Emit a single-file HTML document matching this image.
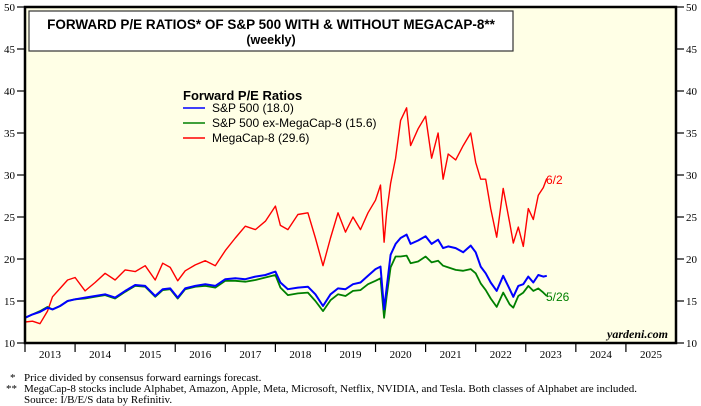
<!DOCTYPE html>
<html><head><meta charset="utf-8"><style>
body{margin:0;background:#fff;width:701px;height:406px;overflow:hidden;font-family:"Liberation Serif",serif}
svg{display:block}
</style></head><body>
<svg id="chart" width="701" height="406" xmlns="http://www.w3.org/2000/svg">
<rect x="25" y="7" width="651" height="336" fill="#ffffe6"/>
<g id="series"></g>
<rect x="25" y="7" width="651" height="336" fill="none" stroke="#000" stroke-width="2.5"/>
<rect x="29" y="11" width="484" height="40" fill="#fff" stroke="#333" stroke-width="1.2"/>
<text x="271" y="29" text-anchor="middle" font-family="Liberation Sans,sans-serif" font-weight="bold" font-size="13.5">FORWARD P/E RATIOS* OF S&amp;P 500 WITH &amp; WITHOUT MEGACAP-8**</text>
<text x="271" y="44" text-anchor="middle" font-family="Liberation Sans,sans-serif" font-weight="bold" font-size="12.5">(weekly)</text>
<g font-family="Liberation Sans,sans-serif">
<text x="183" y="100" font-weight="bold" font-size="13">Forward P/E Ratios</text>
<line x1="183" x2="205" y1="108" y2="108" stroke="#0000ff" stroke-width="1.5"/>
<text x="212" y="112" font-size="12">S&amp;P 500 (18.0)</text>
<line x1="183" x2="205" y1="123" y2="123" stroke="#008000" stroke-width="1.5"/>
<text x="212" y="127" font-size="12">S&amp;P 500 ex-MegaCap-8 (15.6)</text>
<line x1="183" x2="205" y1="138" y2="138" stroke="#ff0000" stroke-width="1.5"/>
<text x="212" y="142" font-size="12">MegaCap-8 (29.6)</text>
</g>
<text x="546" y="184" font-family="Liberation Sans,sans-serif" font-size="12" fill="#ff0000">6/2</text>
<text x="546" y="301" font-family="Liberation Sans,sans-serif" font-size="12" fill="#008000">5/26</text>
<text x="668" y="338" text-anchor="end" font-style="italic" font-weight="bold" font-size="12">yardeni.com</text>
<g font-size="11">
<text x="10" y="381">*</text>
<text x="24" y="381">Price divided by consensus forward earnings forecast.</text>
<text x="6" y="392">**</text>
<text x="24" y="392">MegaCap-8 stocks include Alphabet, Amazon, Apple, Meta, Microsoft, Netflix, NVIDIA, and Tesla. Both classes of Alphabet are included.</text>
<text x="24" y="403">Source: I/B/E/S data by Refinitiv.</text>
</g>
<g id="axes"></g>
</svg>
<script>
const dates=[2013.0,2013.15,2013.3,2013.45,2013.55,2013.7,2013.85,2014.0,2014.2,2014.4,2014.6,2014.8,2015.0,2015.2,2015.4,2015.6,2015.75,2015.9,2016.05,2016.2,2016.4,2016.6,2016.8,2017.0,2017.2,2017.4,2017.6,2017.8,2018.0,2018.1,2018.25,2018.45,2018.65,2018.8,2018.95,2019.1,2019.25,2019.4,2019.55,2019.7,2019.85,2020.0,2020.1,2020.17,2020.22,2020.3,2020.4,2020.5,2020.62,2020.7,2020.85,2021.0,2021.12,2021.25,2021.35,2021.45,2021.6,2021.75,2021.9,2022.0,2022.1,2022.2,2022.3,2022.42,2022.55,2022.68,2022.75,2022.85,2022.95,2023.05,2023.15,2023.25,2023.35,2023.42];
const sp500=[13.0,13.4,13.7,14.2,14.0,14.4,15.0,15.2,15.4,15.6,15.8,15.4,16.2,16.9,16.8,15.6,16.4,16.5,15.4,16.5,16.8,17.0,16.8,17.6,17.7,17.6,17.9,18.1,18.5,17.2,16.4,16.6,16.7,15.8,14.4,15.8,16.5,16.4,17.0,17.2,18.0,18.8,19.1,14.0,16.5,20.5,21.8,22.5,22.9,21.8,22.2,22.7,21.8,22.3,21.3,21.5,21.3,20.8,21.6,20.8,19.1,18.3,17.2,16.2,18.0,16.4,15.5,16.8,17.0,17.9,17.2,18.1,17.9,18.0];
const exMegacap=[13.0,13.4,13.8,14.3,14.0,14.4,15.0,15.2,15.3,15.5,15.7,15.3,16.1,16.8,16.7,15.5,16.3,16.4,15.3,16.4,16.7,16.8,16.6,17.4,17.4,17.3,17.5,17.8,18.1,16.6,15.7,15.9,16.0,15.0,13.8,15.1,15.8,15.6,16.2,16.3,17.0,17.4,17.7,13.0,15.5,19.0,20.3,20.3,20.4,19.5,19.7,20.3,19.6,19.8,19.2,19.0,18.7,18.6,18.8,18.3,17.1,16.3,15.3,14.3,16.0,14.6,14.2,15.6,16.0,16.8,16.2,16.5,16.0,15.6];
const megacap=[12.5,12.6,12.3,13.8,15.5,16.5,17.5,17.8,16.2,17.2,18.3,17.5,18.7,18.5,19.2,17.5,19.5,19.0,17.4,18.6,19.3,19.8,19.2,21.0,22.5,23.9,23.5,24.5,26.3,24.0,23.5,25.3,25.5,22.5,19.2,22.5,25.5,23.2,25.0,23.5,25.5,27.0,28.8,22.0,25.5,29.0,32.0,36.5,38.0,33.5,35.5,37.0,32.0,35.0,29.5,32.5,31.8,33.5,35.0,31.5,29.5,29.5,26.0,22.6,28.4,24.3,21.9,23.8,21.5,26.0,24.7,27.6,28.5,29.6];
const yTicks=[10,15,20,25,30,35,40,45,50];
const yearLabels=["2013","2014","2015","2016","2017","2018","2019","2020","2021","2022","2023","2024","2025"];
const NS="http://www.w3.org/2000/svg";
const X0=25,X1=676,Y0=343,Y1=7;
function xs(t){return X0+(t-2013)*(X1-X0)/13;}
function ys(v){return Y0-(v-10)*(Y0-Y1)/40;}
const axes=document.getElementById('axes');
function mk(tag,attrs,parent){const e=document.createElementNS(NS,tag);for(const k in attrs)e.setAttribute(k,attrs[k]);parent.appendChild(e);return e;}
yTicks.forEach(v=>{
  const y=ys(v);
  let l=mk('line',{x1:17,x2:25,y1:y,y2:y,stroke:'#000','stroke-width':1.2},axes);
  
  
  let r=mk('line',{x1:676,x2:684,y1:y,y2:y,stroke:'#000','stroke-width':1.2},axes);
  
  
  let t=mk('text',{x:15,y:y+4,'text-anchor':'end','font-size':11},axes);
  t.textContent=v;
  
  
  let t2=mk('text',{x:686,y:y+4,'font-size':11},axes);
  t2.textContent=v;
  
  
});
yearLabels.forEach((lab,i)=>{
  const xa=xs(2013+i),xb=xs(2014+i);
  let l=mk('line',{x1:xa,x2:xa,y1:343,y2:352,stroke:'#000','stroke-width':1.2},axes);
  
  
  let t=mk('text',{x:(xa+xb)/2,y:358,'text-anchor':'middle','font-size':11},axes);
  t.textContent=lab;
  
  
});
const ser=document.getElementById('series');
function line(vals,color,name,w){
  const d=vals.map((v,i)=>(i?'L':'M')+xs(dates[i]).toFixed(1)+','+ys(v).toFixed(1)).join('');
  const p=mk('path',{d:d,fill:'none',stroke:color,'stroke-width':w,'stroke-linejoin':'round'},ser);
  
  
}
line(megacap,'#ff0000','megacap-8-line',1.4);
line(exMegacap,'#008000','sp500-ex-megacap-line',1.8);
line(sp500,'#0000ff','sp500-line',2);
</script>
</body></html>
